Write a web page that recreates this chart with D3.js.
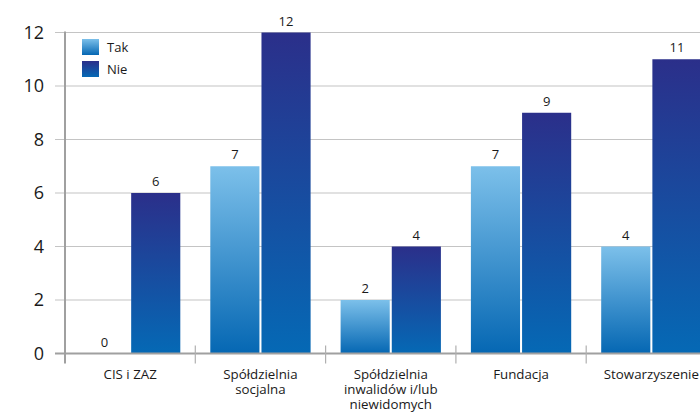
<!DOCTYPE html>
<html><head><meta charset="utf-8">
<script src="https://cdn.jsdelivr.net/npm/d3@7"></script>
<style>body{margin:0;background:#fff}svg{display:block;font-family:"Open Sans",sans-serif}</style>
</head><body>
<svg id="c" width="700" height="412"></svg>
<script>
const categories = ["CIS i ZAZ", "Spółdzielnia socjalna", "Spółdzielnia inwalidów i/lub niewidomych", "Fundacja", "Stowarzyszenie"];
const categoryLines = [["CIS i ZAZ"], ["Spółdzielnia", "socjalna"], ["Spółdzielnia", "inwalidów i/lub", "niewidomych"], ["Fundacja"], ["Stowarzyszenie"]];
const seriesNames = ["Tak", "Nie"];
const takValues = [0, 7, 2, 7, 4];
const nieValues = [6, 12, 4, 9, 11];
const yTicks = [0, 2, 4, 6, 8, 10, 12];

const svg = d3.select("#c");
const plotLeft = 65, plotTop = 32.5, plotBottom = 353.5, bandW = 130.3;
const x = d3.scaleBand().domain(categories).range([plotLeft, plotLeft + bandW * categories.length]).paddingInner(0).paddingOuter(0);
const y = d3.scaleLinear().domain([0, 12]).range([plotBottom, plotTop]);
const inner = d3.scaleBand().domain(seriesNames).range([15, bandW - 15]).paddingInner(0.04);

const defs = svg.append("defs");
const g1 = defs.append("linearGradient").attr("id", "gTak").attr("x1", 0).attr("y1", 0).attr("x2", 0).attr("y2", 1);
g1.append("stop").attr("offset", "0%").attr("stop-color", "#7cc0ea");
g1.append("stop").attr("offset", "100%").attr("stop-color", "#0567b3");
const g2 = defs.append("linearGradient").attr("id", "gNie").attr("x1", 0).attr("y1", 0).attr("x2", 0).attr("y2", 1);
g2.append("stop").attr("offset", "0%").attr("stop-color", "#2b2f8a");
g2.append("stop").attr("offset", "100%").attr("stop-color", "#0569b5");

// gridlines
svg.append("g").selectAll("line").data(yTicks.filter(d => d > 0)).join("line")
  .attr("x1", 55).attr("x2", 700).attr("y1", d => y(d)).attr("y2", d => y(d))
  .attr("stroke", "#c4c4c4").attr("stroke-width", 1.2);

// y labels
svg.append("g").selectAll("text").data(yTicks).join("text")
  .attr("x", 44).attr("y", d => y(d)).attr("dy", "0.36em").attr("text-anchor", "end")
  .attr("font-size", 18).attr("fill", "#1a1a1a").text(d => d);

// bars
const series = [{name: "Tak", values: takValues, fill: "url(#gTak)"}, {name: "Nie", values: nieValues, fill: "url(#gNie)"}];
series.forEach(s => {
  const g = svg.append("g");
  g.selectAll("rect").data(categories).join("rect")
    .attr("x", (c) => x(c) + inner(s.name))
    .attr("width", inner.bandwidth())
    .attr("y", (c, i) => y(s.values[i]))
    .attr("height", (c, i) => plotBottom - y(s.values[i]))
    .attr("fill", s.fill);
  g.selectAll("text").data(categories).join("text")
    .attr("x", c => x(c) + inner(s.name) + inner.bandwidth() / 2)
    .attr("y", (c, i) => y(s.values[i]) - 7)
    .attr("text-anchor", "middle").attr("font-size", 13).attr("fill", "#1a1a1a")
    .text((c, i) => s.values[i]);
});

// axes lines
svg.append("line").attr("x1", 55).attr("x2", 700).attr("y1", plotBottom).attr("y2", plotBottom).attr("stroke", "#a0a0a0").attr("stroke-width", 2);
svg.append("line").attr("x1", plotLeft).attr("x2", plotLeft).attr("y1", plotTop - 1).attr("y2", plotBottom + 10).attr("stroke", "#a0a0a0").attr("stroke-width", 2);
svg.append("g").selectAll("line").data(categories.slice(1)).join("line")
  .attr("x1", c => x(c)).attr("x2", c => x(c)).attr("y1", plotBottom - 8).attr("y2", plotBottom + 10)
  .attr("stroke", "#b0b0b0").attr("stroke-width", 1.2);

// category labels
const cl = svg.append("g").selectAll("text").data(categories).join("text")
  .attr("x", c => x(c) + bandW / 2).attr("y", 379).attr("text-anchor", "middle")
  .attr("font-size", 13.3).attr("fill", "#1a1a1a");
cl.selectAll("tspan").data((c, i) => categoryLines[i].map(t => ({t, cx: x(c) + bandW / 2}))).join("tspan")
  .attr("x", d => d.cx).attr("dy", (d, j) => j === 0 ? 0 : 15).text(d => d.t);

// legend
const lg = svg.append("g");
series.forEach((s, i) => {
  lg.append("rect").attr("x", 82).attr("y", 39 + i * 22).attr("width", 17).attr("height", 16).attr("fill", s.fill);
  lg.append("text").attr("x", 107).attr("y", 52 + i * 22).attr("font-size", 13).attr("fill", "#1a1a1a").text(s.name);
});
</script>
</body></html>
